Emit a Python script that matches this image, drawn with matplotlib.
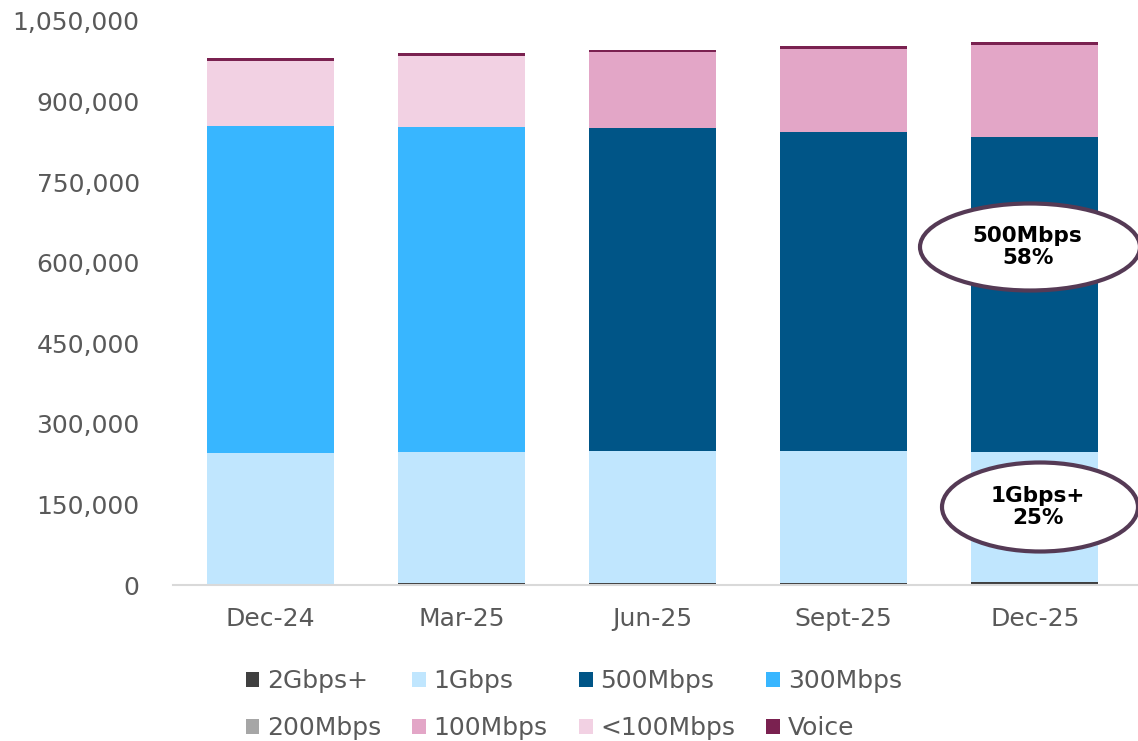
import numpy as np
import matplotlib.pyplot as plt
from matplotlib.patches import Ellipse
from matplotlib.ticker import FuncFormatter

plt.rcParams['font.family'] = ['DejaVu Sans']

categories = ['Dec-24', 'Mar-25', 'Jun-25', 'Sept-25', 'Dec-25']
series_names = ['2Gbps+', '1Gbps', '500Mbps', '300Mbps', '200Mbps', '100Mbps', '<100Mbps', 'Voice']
gbps2 = [2500, 3000, 3500, 4000, 5000]
gbps1 = [243200, 244600, 246000, 245500, 242000]
mbps500 = [0, 0, 600700, 593300, 587600]
mbps300 = [608300, 605100, 0, 0, 0]
mbps200 = [0, 0, 0, 0, 0]
mbps100 = [0, 0, 141500, 155600, 170100]
mbps_lt100 = [122100, 131600, 0, 0, 0]
voice = [5600, 6100, 4300, 5000, 5600]
yticks = [0, 150000, 300000, 450000, 600000, 750000, 900000, 1050000]

colors = ['#404040', '#c0e6fe', '#005587', '#38b6ff', '#a6a6a6', '#e3a6c7', '#f2d1e3', '#7a2150']
series = [gbps2, gbps1, mbps500, mbps300, mbps200, mbps100, mbps_lt100, voice]

fig = plt.figure(figsize=(11.38, 7.41), dpi=100)
ax = fig.add_axes([0.152, 0.2105, 0.848, 0.7612])

x = np.arange(len(categories))
bottom = np.zeros(len(categories))
handles = []
for name, vals, c in zip(series_names, series, colors):
    b = ax.bar(x, vals, bottom=bottom, width=0.665, color=c, label=name, linewidth=0)
    handles.append(b)
    bottom += np.array(vals)

ax.set_xlim(-0.51, 4.54)
ax.set_ylim(0, 1050000)
ax.set_yticks(yticks)
ax.yaxis.set_major_formatter(FuncFormatter(lambda v, p: f'{int(v):,}'))
ax.set_xticks(x)
ax.set_xticklabels(categories)
ax.tick_params(axis='both', length=0, labelsize=18, colors='#595959')
ax.tick_params(axis='y', pad=24)
ax.tick_params(axis='x', pad=16)
for s in ['top', 'right', 'left']:
    ax.spines[s].set_visible(False)
ax.spines['bottom'].set_color('#d9d9d9')
ax.spines['bottom'].set_linewidth(1.5)

# legend: 4 columns, row-wise order
order = [0, 4, 1, 5, 2, 6, 3, 7]
leg = fig.legend([handles[i] for i in order], [series_names[i] for i in order],
                 ncol=4, loc='lower left', bbox_to_anchor=(0.196, -0.029),
                 frameon=False, fontsize=18, handlelength=0.55, handleheight=0.55,
                 handletextpad=0.3, columnspacing=1.25, labelspacing=0.9)
for t in leg.get_texts():
    t.set_color('#595959')

# callout ellipses
for cx, cy, w, h, txt in [(1030, 247, 220, 87, '500Mbps\n58%'),
                          (1040, 507, 196, 89, '1Gbps+\n25%')]:
    e = Ellipse((cx / 1138, 1 - cy / 741), w / 1138, h / 741, transform=fig.transFigure,
                facecolor='white', edgecolor='#553a55', linewidth=3, zorder=5)
    fig.patches.append(e)
    fig.text(cx / 1138 - 0.002, 1 - cy / 741, txt, ha='center', va='center',
             fontsize=15.5, fontweight='bold', color='black', zorder=6, linespacing=1.1)

fig.savefig('out.png', dpi=100)
